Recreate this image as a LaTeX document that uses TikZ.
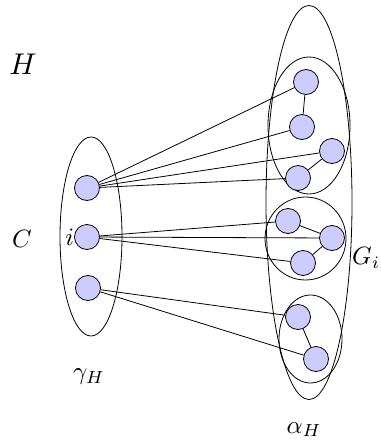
\documentclass[tikz,border=0pt]{standalone}
\usepackage{graphicx}
\usepackage{tikz}
\tikzset{
  vtx/.style={circle, draw=black, fill=blue!20, minimum size=25pt, inner sep=0pt, line width=0.8pt},
  grp/.style={draw=black, line width=0.8pt},
  edg/.style={draw=black, line width=0.8pt},
  lbl/.style={inner sep=0pt},
}
\newcommand{\lblmath}[1]{\scalebox{2.5}{$#1$}}
\begin{document}
\begin{tikzpicture}[x=1pt,y=-1pt]
\useasboundingbox (0,0) rectangle (380,441);
% groups
\draw[grp] (91,236.5) ellipse [x radius=31, y radius=99.5];
\draw[grp] (309,202.5) ellipse [x radius=43, y radius=197];
\draw[grp] (309,125.5) ellipse [x radius=41, y radius=68.5];
\draw[grp] (305.5,238.5) ellipse [x radius=40.5, y radius=41.5];
\draw[grp] (310.5,339) ellipse [x radius=31.5, y radius=44];
% left vertices
\node[vtx] (l1) at (87,188) {};
\node[vtx] (l2) at (87,237) {};
\node[vtx] (l3) at (88,288) {};
% top group
\node[vtx] (a1) at (306,82) {};
\node[vtx] (a2) at (302,127) {};
\node[vtx] (a3) at (332,151) {};
\node[vtx] (a4) at (298,178) {};
% middle group
\node[vtx] (b1) at (288,221) {};
\node[vtx] (b2) at (332,238) {};
\node[vtx] (b3) at (303,263) {};
% bottom group
\node[vtx] (c1) at (298,317) {};
\node[vtx] (c2) at (316,359) {};
% edges
\draw[edg] (a1) -- (a2);
\draw[edg] (a3) -- (a4);
\draw[edg] (b1) -- (b2);
\draw[edg] (b2) -- (b3);
\draw[edg] (c1) -- (c2);
\foreach \t in {a1,a2,a3,a4} \draw[edg] (l1) -- (\t);
\foreach \t in {b1,b2,b3} \draw[edg] (l2) -- (\t);
\foreach \t in {c1,c2} \draw[edg] (l3) -- (\t);
% labels
\node[lbl] (H) at (23,64) {\scalebox{3}{$H$}};
\node[lbl] (C) at (22,238.5) {\lblmath{C}};
\node[lbl, anchor=east] (i) at (l2.west) {\lblmath{i}};
\node[lbl] (gam) at (89,377) {\lblmath{\gamma_H}};
\node[lbl, anchor=south] (alp) at (304,437) {\lblmath{\alpha_H}};
\node[lbl, anchor=west] (G) at (352,258) {\lblmath{G_i}};
\end{tikzpicture}
\end{document}
